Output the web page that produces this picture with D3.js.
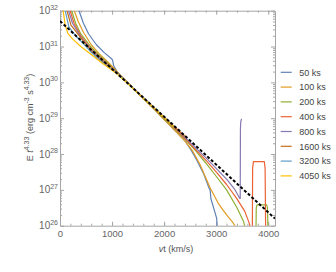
<!DOCTYPE html>
<html lang="en">
<head>
  <meta charset="UTF-8" />
  <title>E t^4.33 profiles</title>
  <script src="https://d3js.org/d3.v7.min.js"></script>
  <style>
    body { margin: 0; background: #fff; }
    svg { display: block; font-family: 'Liberation Sans', Arial, sans-serif; }
    .axis path, .axis line { stroke: #a6a6a6; stroke-width: 1px; }
    .axis text { fill: #666; font-size: 9.5px; font-family: 'Liberation Sans', Arial, sans-serif; }
    .ylab { fill: #666; font-size: 10px; }
    .title { fill: #555; font-size: 9px; }
    .leg { fill: #444; font-size: 9px; }
  </style>
</head>
<body>
  <svg width="336" height="272"></svg>
  <script>
    // [velocity km/s, log10 of E t^4.33]
    const s50 = [[300,32.4],[365,32.0],[450,31.65],[550,31.35],[700,31.05],[850,30.83],[990,30.66],[1010,30.62],[1030,30.47],[1100,30.29],[1200,30.14],[1300,29.99],[1400,29.84],[1600,29.56],[1800,29.27],[2000,28.97],[2200,28.67],[2400,28.37],[2519,28.11],[2628,27.83],[2756,27.46],[2852,27.09],[2885,26.98],[2898,26.76],[2981,26.35],[3010,26.2],[3022,25.9]];
    const s100 = [[230,32.4],[275,32.0],[350,31.7],[450,31.4],[600,31.05],[750,30.8],[900,30.6],[1000,30.45],[1100,30.29],[1200,30.13],[1300,29.99],[1400,29.84],[1600,29.55],[1800,29.26],[2000,28.96],[2200,28.67],[2400,28.36],[2551,28.08],[2692,27.7],[2885,27.05],[3050,26.6],[3200,26.3],[3330,26.07],[3400,25.9]];
    const s200 = [[185,32.4],[225,32.0],[300,31.65],[400,31.35],[600,30.98],[750,30.76],[900,30.56],[1000,30.42],[1100,30.28],[1200,30.13],[1300,29.99],[1400,29.84],[1600,29.56],[1800,29.28],[2000,28.99],[2200,28.71],[2400,28.42],[2600,28.1],[2800,27.75],[3000,27.38],[3200,27.0],[3400,26.5],[3530,26.1],[3560,25.9],[3765,25.9],[3770,26.5],[3785,26.58],[3970,26.58],[3985,26.5],[3995,25.9]];
    const s400 = [[160,32.4],[195,32.0],[270,31.65],[400,31.3],[600,30.93],[750,30.72],[900,30.53],[1000,30.4],[1100,30.27],[1200,30.13],[1300,29.99],[1400,29.84],[1600,29.57],[1800,29.29],[2000,29.01],[2200,28.73],[2400,28.44],[2600,28.13],[2800,27.83],[3000,27.5],[3200,27.15],[3400,26.75],[3550,26.4],[3640,26.05],[3655,25.9],[3695,25.9],[3700,27.6],[3715,27.79],[3925,27.79],[3940,27.6],[3950,25.9]];
    const s800 = [[135,32.4],[165,32.0],[240,31.65],[400,31.27],[600,30.9],[750,30.7],[900,30.5],[1000,30.39],[1100,30.26],[1200,30.12],[1300,29.98],[1400,29.84],[1600,29.57],[1800,29.3],[2000,29.03],[2200,28.75],[2400,28.47],[2641,28.12],[2800,27.9],[3000,27.6],[3200,27.3],[3350,27.03],[3455,26.76],[3462,26.76],[3466,28.7],[3472,28.9],[3488,28.98]];
    const s1600 = [[105,32.4],[135,32.0],[210,31.6],[400,31.25],[600,30.87],[750,30.66],[900,30.48],[1000,30.37],[1100,30.25],[1200,30.12],[1300,29.98],[1400,29.84],[1600,29.57],[1800,29.3],[2000,29.03],[2200,28.76],[2400,28.5]];
    const s3200 = [[75,32.4],[100,32.0],[170,31.55],[300,31.3],[450,31.08],[600,30.84],[750,30.64],[900,30.46],[1000,30.36],[1100,30.25],[1200,30.12],[1300,29.98],[1400,29.84],[1600,29.57],[1800,29.3],[2000,29.03],[2200,28.76]];
    const s4050 = [[40,32.4],[60,32.0],[100,31.6],[150,31.37],[250,31.2],[400,31.0],[600,30.78],[800,30.55],[1000,30.34],[1100,30.23],[1200,30.1],[1300,29.97],[1400,29.83],[1600,29.56],[1800,29.29],[2000,29.02],[2200,28.75]];
    const fitLine = [[0,31.71],[4130,26.2]];

    const seriesLabels = ["50 ks","100 ks","200 ks","400 ks","800 ks","1600 ks","3200 ks","4050 ks"];
    const seriesColors = ["#5e81b5","#e19c24","#8fb032","#eb6235","#8778b3","#c56e1a","#5d9ec7","#ffbf00"];
    const seriesData = [s50, s100, s200, s400, s800, s1600, s3200, s4050];

    const xTicks = [0, 1000, 2000, 3000, 4000];
    const xMinor = d3.range(0, 4130, 200);
    const yExps = [26, 27, 28, 29, 30, 31, 32];

    const svg = d3.select("svg");
    const x = d3.scaleLinear().domain([0, 4130]).range([60, 275]);
    const y = d3.scaleLog().domain([1e26, 1e32]).range([225.7, 10.7]);

    svg.append("clipPath").attr("id", "clip")
      .append("rect")
      .attr("x", 60).attr("y", 10.7)
      .attr("width", 215).attr("height", 215);

    const yMinor = y.ticks().filter(v => Math.abs(Math.log10(v) % 1) > 1e-6);
    const yMajor = yExps.map(e => Math.pow(10, e));

    // frame + ticks (inward)
    function frame(axisFn, scale, pos, major, minor, labels) {
      const g = svg.append("g").attr("class", "axis").attr("transform", pos);
      g.call(axisFn(scale).tickValues(minor).tickSizeInner(-2).tickSizeOuter(0).tickFormat(""));
      const g2 = svg.append("g").attr("class", "axis").attr("transform", pos);
      g2.call(axisFn(scale).tickValues(major).tickSizeInner(-4).tickSizeOuter(0).tickPadding(5)
        .tickFormat(labels ? d3.format("d") : ""));
      g2.select(".domain").remove();
      g.attr("font-family", null).attr("font-size", null);
      g2.attr("font-family", null).attr("font-size", null);
    }
    frame(d3.axisBottom, x, "translate(0,225.7)", xTicks, xMinor, true);
    frame(d3.axisTop, x, "translate(0,10.7)", xTicks, xMinor, false);
    frame(d3.axisLeft, y, "translate(60,0)", yMajor, yMinor, false);
    frame(d3.axisRight, y, "translate(275,0)", yMajor, yMinor, false);

    // y tick labels with superscript
    yExps.forEach(e => {
      const t = svg.append("text").attr("class", "ylab")
        .attr("x", 58).attr("y", y(Math.pow(10, e)) + 3.6)
        .attr("text-anchor", "end");
      t.append("tspan").text("10");
      t.append("tspan").attr("dy", -4.5).attr("font-size", "7px").text(e);
    });

    // curves
    const line = d3.line()
      .x(d => x(d[0]))
      .y(d => y(Math.pow(10, d[1])));

    const plot = svg.append("g").attr("clip-path", "url(#clip)");
    seriesData.forEach((s, i) => {
      plot.append("path")
        .datum(s)
        .attr("fill", "none")
        .attr("stroke", seriesColors[i])
        .attr("stroke-width", 1.2)
        .attr("stroke-linejoin", "round")
        .attr("d", line);
    });
    plot.append("path")
      .datum(fitLine)
      .attr("fill", "none")
      .attr("stroke", "#000")
      .attr("stroke-width", 2)
      .attr("stroke-dasharray", "3,2")
      .attr("d", line);

    // axis titles
    const xt = svg.append("text").attr("class", "title")
      .attr("x", 176).attr("y", 251.5).attr("text-anchor", "middle");
    xt.append("tspan").attr("font-style", "italic").text("v");
    xt.append("tspan").text("t (km/s)");

    const yt = svg.append("text").attr("class", "title")
      .attr("transform", "translate(33,117.5) rotate(-90)")
      .attr("text-anchor", "middle");
    yt.append("tspan").text("E ");
    yt.append("tspan").attr("font-style", "italic").text("t");
    yt.append("tspan").attr("dy", -4).attr("font-size", "7px").text("4.33");
    yt.append("tspan").attr("dy", 4).text(" (erg cm");
    yt.append("tspan").attr("dy", -4).attr("font-size", "7px").text("-3");
    yt.append("tspan").attr("dy", 4).text(" s");
    yt.append("tspan").attr("dy", -4).attr("font-size", "7px").text("4.33");
    yt.append("tspan").attr("dy", 4).text(")");

    // legend
    const leg = svg.append("g");
    seriesLabels.forEach((lab, i) => {
      const ly = 72.3 + i * 14.8;
      leg.append("line")
        .attr("x1", 280.7).attr("x2", 291.7)
        .attr("y1", ly).attr("y2", ly)
        .attr("stroke", seriesColors[i]).attr("stroke-width", 1.2);
      leg.append("text").attr("class", "leg")
        .attr("x", 299.3).attr("y", ly + 3.2)
        .text(lab);
    });
  </script>
</body>
</html>
